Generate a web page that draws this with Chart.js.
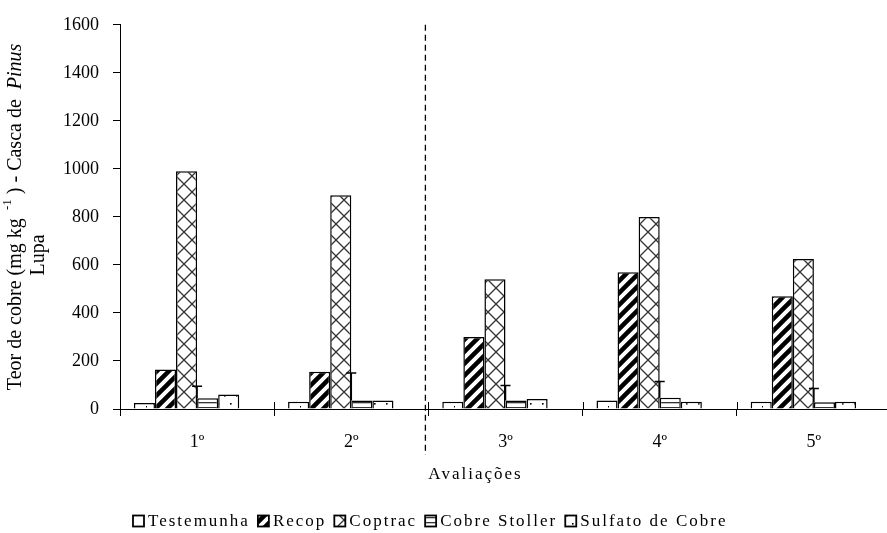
<!DOCTYPE html>
<html>
<head>
<meta charset="utf-8">
<script src="https://cdn.jsdelivr.net/npm/chart.js@4/dist/chart.umd.min.js"></script>
<style>
  html, body { margin: 0; padding: 0; background: #fff; overflow: hidden; }
  #wrap { position: relative; width: 887px; height: 533px; overflow: hidden; }
  canvas { display: block; }
</style>
</head>
<body>
<div id="wrap"><canvas id="chart" width="891" height="533"></canvas></div>
<script>
// Avaliações (categorias)
const avaliacoes = ['1º', '2º', '3º', '4º', '5º'];

// Teor de cobre (mg kg-1) por tratamento
const testemunha   = [25, 30, 30, 35, 30];
const recop        = [165, 155, 300, 570, 470];
const coptrac      = [990, 890, 540, 800, 625];
const cobreStoller = [45, 35, 35, 47, 28];
const sulfatoCobre = [60, 35, 42, 30, 30];

// Diferença mínima significativa em cada avaliação
const dms = [95, 150, 98, 115, 85];

// Eixo Y
const yMin = 0, yMax = 1600, yStep = 200;

const SERIF = '"Liberation Serif", "Times New Roman", serif';

// ---- padrões de preenchimento ----
function tile(w, h, draw) {
  const c = document.createElement('canvas');
  c.width = w; c.height = h;
  const g = c.getContext('2d');
  g.fillStyle = '#fff';
  g.fillRect(0, 0, w, h);
  draw(g, w, h);
  return c;
}
const ctxMain = document.getElementById('chart').getContext('2d');

const patTestemunha = ctxMain.createPattern(tile(14, 14, (g) => {
  g.fillStyle = '#000';
  g.fillRect(6, 0, 1, 1.5);
}), 'repeat');

const patRecop = ctxMain.createPattern(tile(12, 12, (g, w, h) => {
  g.strokeStyle = '#000';
  g.lineWidth = 4.5;
  g.beginPath();
  g.moveTo(-2, h + 2); g.lineTo(w + 2, -2);
  g.moveTo(-2 - w, h + 2); g.lineTo(2, -2);
  g.moveTo(w - 2, h + 2); g.lineTo(w + w + 2, -2);
  g.stroke();
}), 'repeat');

const patCoptrac = ctxMain.createPattern(tile(16, 16, (g, w, h) => {
  g.strokeStyle = '#333';
  g.lineWidth = 1.3;
  g.beginPath();
  g.moveTo(0, 0); g.lineTo(w, h);
  g.moveTo(0, h); g.lineTo(w, 0);
  g.stroke();
}), 'repeat');

const patStoller = ctxMain.createPattern(tile(8, 5, (g, w) => {
  g.fillStyle = '#333';
  g.fillRect(0, 2, w, 1.3);
}), 'repeat');

const patSulfato = ctxMain.createPattern(tile(12, 16, (g) => {
  g.fillStyle = '#000';
  g.fillRect(2, 3, 1.6, 1.6);
  g.fillRect(8, 11, 1.6, 1.6);
}), 'repeat');

function barSet(label, data, pattern) {
  return {
    label, data,
    backgroundColor: pattern,
    borderColor: '#000',
    borderWidth: 1.5,
    borderSkipped: 'bottom',
    barPercentage: 1,
    categoryPercentage: 0.82
  };
}

const datasets = [
  barSet('Testemunha', testemunha, patTestemunha),
  barSet('Recop', recop, patRecop),
  barSet('Coptrac', coptrac, patCoptrac),
  barSet('Cobre Stoller', cobreStoller, patStoller),
  barSet('Sulfato de Cobre', sulfatoCobre, patSulfato),
  // sexta posição vazia do grupo (reserva espaço, sem barra)
  Object.assign(barSet('', avaliacoes.map(() => null), '#fff'), { borderWidth: 0 })
];

// ---- plugin: marcações extras, títulos e legenda ----
const extras = {
  id: 'extras',
  afterDatasetsDraw(chart) {
    const { ctx, scales: { x, y } } = chart;
    ctx.save();
    // barras de DMS no centro de cada avaliação
    ctx.strokeStyle = '#000';
    ctx.lineWidth = 1.5;
    dms.forEach((v, i) => {
      const cx = x.getPixelForValue(i);
      const top = y.getPixelForValue(v);
      const base = y.getPixelForValue(Math.max(cobreStoller[i], 0));
      ctx.beginPath();
      ctx.moveTo(cx, base); ctx.lineTo(cx, top);
      ctx.moveTo(cx - 5, top); ctx.lineTo(cx + 5, top);
      ctx.stroke();
    });
    ctx.restore();
  },
  afterDraw(chart) {
    const { ctx, chartArea: a, scales: { x } } = chart;
    ctx.save();
    ctx.strokeStyle = '#000';
    ctx.lineWidth = 1;

    // marcas do eixo X cruzando a linha do eixo
    for (let i = 0; i <= avaliacoes.length; i++) {
      const px = Math.round(x.getPixelForValue(i - 0.5)) + 0.5;
      ctx.beginPath();
      ctx.moveTo(px, a.bottom - 7); ctx.lineTo(px, a.bottom);
      ctx.stroke();
    }

    // linha tracejada separando a 2ª e a 3ª avaliações
    const sep = x.getPixelForValue(1.5) - 3;
    ctx.setLineDash([6, 4]);
    ctx.lineWidth = 1.3;
    ctx.beginPath();
    ctx.moveTo(sep, a.top);
    ctx.lineTo(sep, a.bottom + 46);
    ctx.stroke();
    ctx.setLineDash([]);

    // título do eixo X
    ctx.fillStyle = '#000';
    ctx.font = '17px ' + SERIF;
    ctx.textAlign = 'center';
    ctx.textBaseline = 'middle';
    ctx.letterSpacing = '2px';
    ctx.fillText('Avaliações', (a.left + a.right) / 2 - 30, a.bottom + 66);
    ctx.letterSpacing = '0px';

    // título do eixo Y (duas linhas, rotacionado)
    const cy = (a.top + a.bottom) / 2;
    ctx.save();
    ctx.translate(16, cy);
    ctx.rotate(-Math.PI / 2);
    const parts = [
      { t: 'Teor de cobre (mg kg ', f: '20px ' + SERIF, dy: 0 },
      { t: ' -1', f: '13px ' + SERIF, dy: -8 },
      { t: ' ) - Casca de  ', f: '20px ' + SERIF, dy: 0 },
      { t: 'Pinus', f: 'italic 20px ' + SERIF, dy: 0 }
    ];
    let total = 0;
    parts.forEach(p => { ctx.font = p.f; p.w = ctx.measureText(p.t).width; total += p.w; });
    let px = -total / 2;
    ctx.textAlign = 'left';
    parts.forEach(p => { ctx.font = p.f; ctx.fillText(p.t, px, p.dy); px += p.w; });
    ctx.font = '20px ' + SERIF;
    ctx.textAlign = 'center';
    ctx.fillText('Lupa', -38, 23);
    ctx.restore();

    // legenda
    ctx.font = '17px ' + SERIF;
    ctx.letterSpacing = '2px';
    ctx.textAlign = 'left';
    const items = chart.data.datasets.filter(d => d.label);
    const box = 11, gapBox = 4, gapItem = 8;
    let lx = a.left + 13;
    const ly = a.bottom + 112;
    items.forEach(d => {
      ctx.fillStyle = d.backgroundColor;
      ctx.fillRect(lx, ly - box / 2, box, box);
      ctx.lineWidth = 1.8;
      ctx.strokeStyle = '#000';
      ctx.strokeRect(lx, ly - box / 2, box, box);
      ctx.fillStyle = '#000';
      ctx.fillText(d.label, lx + box + gapBox, ly + 1);
      lx += box + gapBox + ctx.measureText(d.label).width + gapItem;
    });
    ctx.restore();
  }
};

new Chart(document.getElementById('chart'), {
  type: 'bar',
  data: { labels: avaliacoes, datasets },
  plugins: [extras],
  options: {
    responsive: false,
    animation: false,
    devicePixelRatio: 1,
    layout: { padding: { top: 21, right: 0, left: 0, bottom: 0 } },
    plugins: { legend: { display: false }, tooltip: { enabled: false } },
    scales: {
      x: {
        offset: true,
        grid: { display: true, offset: true, drawOnChartArea: false, tickLength: 7, color: '#000', tickColor: '#000' },
        border: { display: true, color: '#000', width: 1 },
        ticks: { color: '#000', font: { family: SERIF, size: 18 }, padding: 15 },
        afterFit(s) { s.height = 124; }
      },
      y: {
        min: yMin, max: yMax,
        grid: { display: true, drawOnChartArea: false, tickLength: 7, color: '#000', tickColor: '#000' },
        border: { display: true, color: '#000', width: 1 },
        ticks: {
          stepSize: yStep, color: '#000', font: { family: SERIF, size: 18 }, padding: 14,
          callback: (v) => String(v)
        },
        afterFit(s) { s.width = 120; }
      }
    }
  }
});
</script>
</body>
</html>
